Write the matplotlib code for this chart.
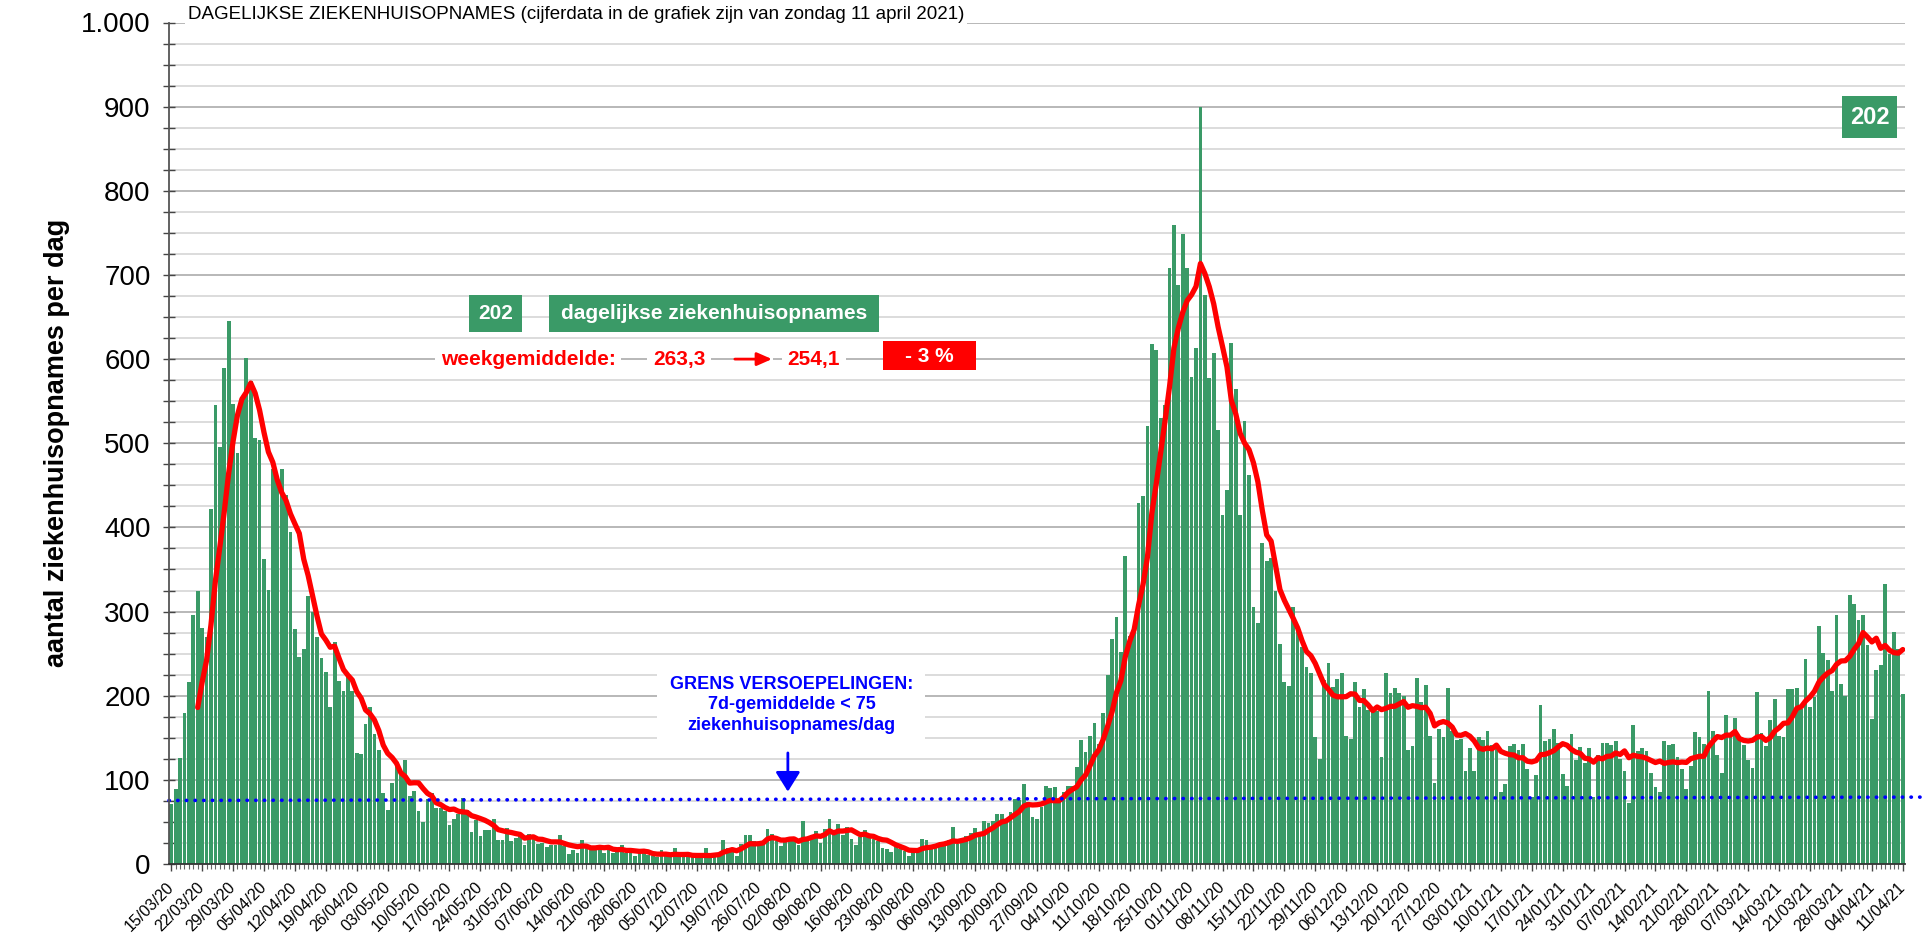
import matplotlib.pyplot as plt
from matplotlib.patches import Rectangle
from matplotlib.ticker import FuncFormatter, MultipleLocator
import numpy as np
import pandas as pd

# dagelijkse ziekenhuisopnames, vanaf zondag 15 maart 2020
start_datum = '2020-03-15'

opnames_golf1_op = [71, 89, 126, 180, 216, 296, 324, 281, 270, 422, 545, 496, 590,
                    645, 547, 489, 555, 601, 574, 506, 504, 362, 326]
opnames_golf1_af = [469, 455, 469, 438, 394, 279, 246, 255, 319, 300, 270, 245, 228,
                    186, 264, 218, 206, 223, 205, 132, 131, 166, 187, 154, 135, 84,
                    64, 96, 118, 106, 124, 81]
opnames_mei_jul = [87, 63, 50, 77, 84, 67, 66, 63, 46, 54, 59, 78, 64, 38, 52, 33, 40,
                   40, 54, 29, 29, 43, 27, 31, 33, 23, 36, 33, 24, 25, 20, 23, 23, 35,
                   21, 12, 17, 13, 29, 21, 21, 21, 17, 13, 17, 13, 17, 23, 13, 17, 9,
                   13, 15, 11]
opnames_zomer = [9, 8, 17, 9, 8, 19, 9, 9, 9, 9, 8, 8, 19, 8, 13, 13, 29, 19, 19, 9,
                 24, 34, 35, 27, 21, 25, 42, 36, 27, 21, 27, 29, 27, 22, 51, 32, 34,
                 39, 25, 42, 53, 34, 47, 34, 44, 30, 22, 32, 40, 32, 30, 27]
opnames_aug_okt = [19, 18, 14, 20, 18, 16, 10, 17, 17, 30, 28, 22, 24, 23, 23, 28, 44,
                   24, 30, 33, 37, 43, 36, 51, 49, 51, 60, 60, 51, 62, 77, 76, 95, 74,
                   56, 53, 68, 93, 90, 92, 74, 85, 93, 93, 115, 147, 133, 152, 167, 143]
opnames_golf2 = [180, 225, 267, 293, 252, 366, 271, 277, 429, 437, 521, 618, 611, 530,
                 545, 708, 759, 688, 749, 708, 579, 613, 899, 676, 578, 607, 516, 415,
                 444, 619, 565, 415, 527, 462, 306, 286, 381, 360, 364, 324, 262, 216,
                 212, 306, 280, 258, 234, 227, 151, 125, 219, 239, 210, 220, 227, 152]
opnames_dec_jan = [149, 216, 187, 208, 183, 181, 182, 127, 227, 203, 209, 203, 200, 135,
                   140, 221, 192, 213, 152, 96, 160, 151, 209, 158, 147, 149, 111, 138,
                   111, 151, 147, 158, 142, 142, 86, 95, 140, 143, 135, 143, 113, 80,
                   106, 189, 146, 149, 160, 144, 107, 93, 154, 123, 139, 120, 138]
opnames_jan_mrt = [80, 130, 144, 144, 142, 146, 125, 110, 73, 165, 134, 138, 134, 108,
                   92, 85, 146, 142, 143, 127, 113, 89, 116, 157, 151, 143, 206, 158,
                   129, 108, 177, 151, 173, 148, 142, 124, 114, 204, 156, 140, 171, 196,
                   152]
opnames_golf3 = [151, 208, 208, 209, 184, 244, 186, 198, 283, 251, 242, 205, 296, 214,
                 200, 320, 309, 290, 296, 260, 172, 231, 236, 333, 250, 276, 256, 202]

opnames = np.array(opnames_golf1_op + opnames_golf1_af + opnames_mei_jul + opnames_zomer
                   + opnames_aug_okt + opnames_golf2 + opnames_dec_jan + opnames_jan_mrt
                   + opnames_golf3)
datums = pd.date_range(start_datum, periods=len(opnames), freq='D')
weekgemiddelde = pd.Series(opnames).rolling(7).mean()

grens = [75.5, 79.5]
groen = '#3a9a67'

plt.rcParams['font.family'] = ['Liberation Sans', 'DejaVu Sans']

fig = plt.figure(figsize=(19.26, 9.42), dpi=100)
ax = fig.add_axes([169 / 1926, 78 / 942, 1736 / 1926, 841.5 / 942])

x = np.arange(len(opnames))

# gridlines
for y in range(25, 1001, 25):
    ax.axhline(y, color='#a4a4a4' if y % 100 == 0 else '#d2d2d2', lw=1.1, zorder=0)

ax.bar(x, opnames, width=0.85, color=groen, zorder=2)
ax.plot(x, weekgemiddelde, color='#ff0000', lw=3.8, zorder=4, solid_capstyle='round')

# grens versoepelingen
ax.plot([-0.5, 397.5], grens, color='#0000ff', lw=2.6, linestyle=(0, (0.1, 2.3)),
        dash_capstyle='round', clip_on=False, zorder=5)
ax.add_patch(Rectangle((110.0, 141.4), 60.7, 91.5, facecolor='white', edgecolor='none', zorder=1))
ax.text(140.4, 189, 'GRENS VERSOEPELINGEN:\n7d-gemiddelde < 75\nziekenhuisopnames/dag',
        ha='center', va='center', color='#0000ff', fontsize=13, fontweight='bold',
        linespacing=1.3, zorder=6)
ax.annotate('', xy=(139.6, 86), xytext=(139.6, 132),
            arrowprops=dict(arrowstyle='-|>,head_length=0.4,head_width=0.25', color='#0000ff',
                            lw=2, mutation_scale=30, shrinkA=0, shrinkB=0), zorder=6)

# legenda / kerncijfers
ax.add_patch(Rectangle((67.4, 632.2), 12.0, 44.0, facecolor=groen, edgecolor='none', zorder=5))
ax.text(73.4, 654.2, '202', ha='center', va='center', color='white', fontsize=15,
        fontweight='bold', zorder=6)
ax.add_patch(Rectangle((85.5, 632.2), 74.7, 44.0, facecolor=groen, edgecolor='none', zorder=5))
ax.text(122.85, 654.2, 'dagelijkse ziekenhuisopnames', ha='center', va='center', color='white',
        fontsize=15, fontweight='bold', zorder=6)

wit = dict(facecolor='white', edgecolor='none', pad=4)
ax.text(80.8, 600, 'weekgemiddelde:', ha='center', va='center', color='#ff0000', fontsize=15,
        fontweight='bold', bbox=wit, zorder=6)
ax.text(115.0, 600, '263,3', ha='center', va='center', color='#ff0000', fontsize=15,
        fontweight='bold', bbox=wit, zorder=6)
ax.add_patch(Rectangle((127.4, 593), 8.8, 14, facecolor='white', edgecolor='none', zorder=5))
ax.annotate('', xy=(136.0, 600), xytext=(127.6, 600),
            arrowprops=dict(arrowstyle='-|>,head_length=0.5,head_width=0.22', color='#ff0000',
                            lw=2, mutation_scale=18, shrinkA=0, shrinkB=0), zorder=6)
ax.text(145.5, 600, '254,1', ha='center', va='center', color='#ff0000', fontsize=15,
        fontweight='bold', bbox=wit, zorder=6)
ax.add_patch(Rectangle((161.1, 587.1), 21.1, 34.4, facecolor='#ff0000', edgecolor='none', zorder=5))
ax.text(171.65, 603.5, '- 3 %', ha='center', va='center', color='white', fontsize=15,
        fontweight='bold', zorder=6)

ax.add_patch(Rectangle((378.3, 862.8), 12.4, 49.9, facecolor=groen, edgecolor='none', zorder=5))
ax.text(384.5, 887.7, '202', ha='center', va='center', color='white', fontsize=17,
        fontweight='bold', zorder=6)

ax.text(3.8, 1009, 'DAGELIJKSE ZIEKENHUISOPNAMES (cijferdata in de grafiek zijn van zondag 11 april 2021)',
        ha='left', va='center', fontsize=13.5, family=['Liberation Sans Narrow', 'Liberation Sans'],
        bbox=dict(facecolor='white', edgecolor='none', pad=2), clip_on=False, zorder=6)

# assen
ax.set_xlim(-0.5, len(opnames) - 0.5)
ax.set_ylim(0, 1000)
ax.yaxis.set_major_locator(MultipleLocator(100))
ax.yaxis.set_minor_locator(MultipleLocator(25))
ax.yaxis.set_major_formatter(FuncFormatter(lambda v, p: f'{int(v):,}'.replace(',', '.')))
ax.tick_params(axis='y', which='both', direction='inout', length=8.6, width=1, color='#444444',
               labelsize=20, pad=9)

ax.set_xticks(x[::7])
ax.set_xticklabels([d.strftime('%d/%m/%y') for d in datums[::7]], rotation=45, ha='right',
                   va='center', rotation_mode='anchor', fontsize=11.5)
ax.set_xticks(x, minor=True)
ax.tick_params(axis='x', which='major', direction='out', length=5, width=1, color='#444444', pad=10)
ax.tick_params(axis='x', which='minor', direction='out', length=3.5, width=0.8, color='#666666')

for side in ['top', 'right']:
    ax.spines[side].set_visible(False)
ax.spines['left'].set_color('#555555')
ax.spines['left'].set_linewidth(1.3)
ax.spines['bottom'].set_color('#333333')
ax.spines['bottom'].set_linewidth(1.3)
ax.spines['left'].set_zorder(7)
ax.spines['bottom'].set_zorder(7)

fig.text(57 / 1926, 1 - 443 / 942, 'aantal ziekenhuisopnames per dag', rotation=90, fontsize=19.5,
         fontweight='bold', ha='center', va='center')

fig.savefig('out.png', dpi=100)
